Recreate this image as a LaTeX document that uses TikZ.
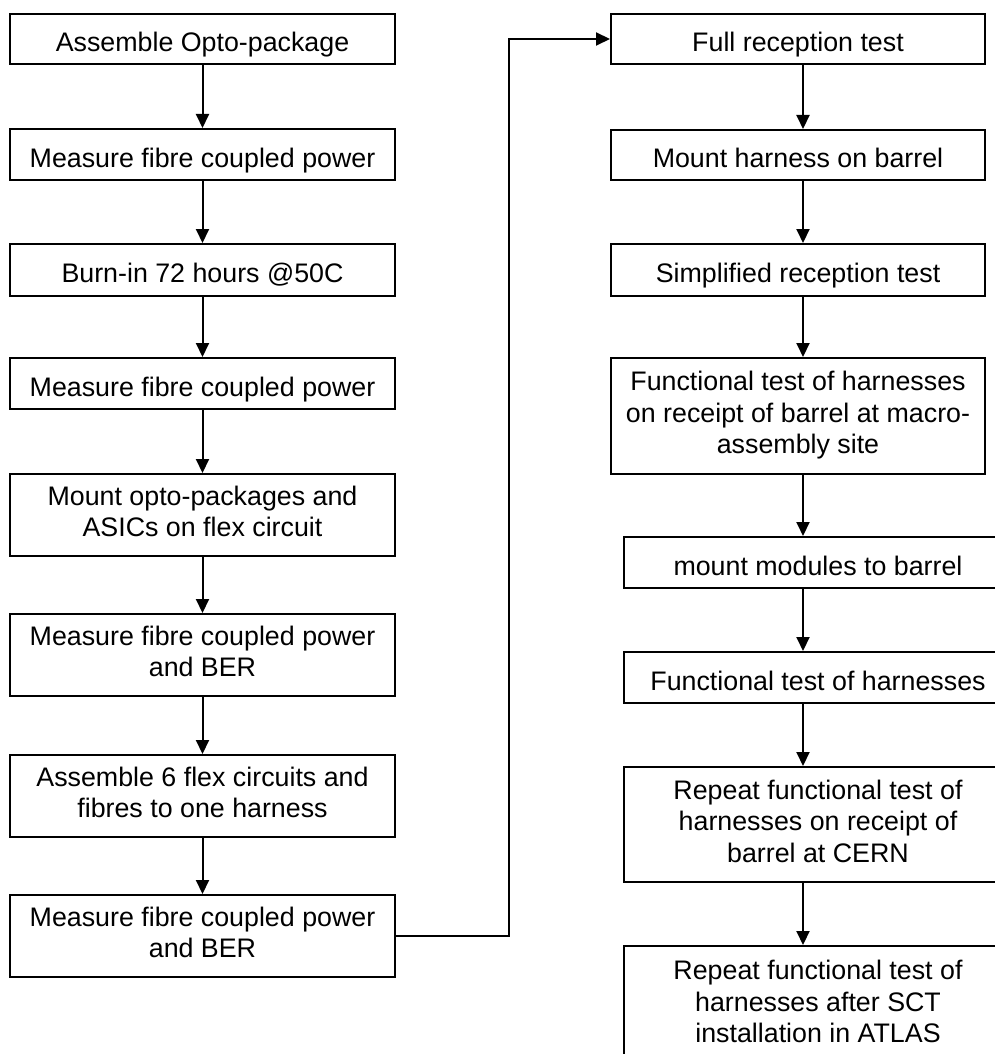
\documentclass[tikz,border=0pt]{standalone}
\usepackage{fontspec}
\setmainfont{Liberation Sans}
\usetikzlibrary{arrows.meta}
\newcommand\topstrut{\rule{0pt}{32pt}}
\newcommand\botstrut{\rule[-7pt]{0pt}{7pt}}
\begin{document}
\begin{tikzpicture}[x=1pt,y=-1pt,
  box/.style={draw=black, line width=2pt, rectangle, inner sep=0pt, align=center,
    font=\fontsize{26.8}{31.5}\selectfont,
    execute at begin node=\topstrut, execute at end node=\botstrut},
  lbox/.style={box, minimum width=385pt},
  rbox/.style={box, minimum width=374pt},
  wbox/.style={box, minimum width=388pt},
  arr/.style={line width=2pt, -{Triangle[length=14pt,width=13pt]}}]
\useasboundingbox (0,0) rectangle (995,1054);
\clip (0,0) rectangle (995,1054);
\fill[white] (0,0) rectangle (995,1054);
% left column
\node[lbox, minimum height=50pt] (L1) at (202.5,39) {Assemble Opto-package};
\node[lbox, minimum height=51pt] (L2) at (202.5,154.5) {Measure fibre coupled power};
\node[lbox, minimum height=52pt] (L3) at (202.5,270) {Burn-in 72 hours @50C};
\node[lbox, minimum height=51pt] (L4) at (202.5,383.5) {Measure fibre coupled power};
\node[lbox, minimum height=82pt] (L5) at (202.5,515) {Mount opto-packages and\\ASICs on flex circuit};
\node[lbox, minimum height=82pt] (L6) at (202.5,655) {Measure fibre coupled power\\and BER};
\node[lbox, minimum height=82pt] (L7) at (202.5,796) {Assemble 6 flex circuits and\\fibres to one harness};
\node[lbox, minimum height=82pt] (L8) at (202.5,936) {Measure fibre coupled power\\and BER};
% right column
\node[rbox, minimum height=50pt] (R1) at (798,39) {Full reception test};
\node[rbox, minimum height=50pt] (R2) at (798,155) {Mount harness on barrel};
\node[rbox, minimum height=52pt] (R3) at (798,270) {Simplified reception test};
\node[rbox, minimum height=116pt] (R4) at (798,416) {Functional test of harnesses\\on receipt of barrel at macro-\\assembly site};
\node[wbox, minimum height=51pt] (R5) at (818,562.5) {mount modules to barrel};
\node[wbox, minimum height=51pt] (R6) at (818,677.5) {Functional test of harnesses};
\node[wbox, minimum height=115pt] (R7) at (818,824.5) {Repeat functional test of\\harnesses on receipt of\\barrel at CERN};
\node[wbox, minimum height=118pt] (R8) at (818,1005) {Repeat functional test of\\harnesses after SCT\\installation in ATLAS};
% helper coordinates
\coordinate (rx) at (803,0);
\coordinate (vx) at (509,0);
% left arrows
\draw[arr] (L1) -- (L2);
\draw[arr] (L2) -- (L3);
\draw[arr] (L3) -- (L4);
\draw[arr] (L4) -- (L5);
\draw[arr] (L5) -- (L6);
\draw[arr] (L6) -- (L7);
\draw[arr] (L7) -- (L8);
% link between columns
\draw[arr] (L8.east) -- (L8.east -| vx) |- (R1.west);
% right arrows
\draw[arr] (R1.south -| rx) -- (R2.north -| rx);
\draw[arr] (R2.south -| rx) -- (R3.north -| rx);
\draw[arr] (R3.south -| rx) -- (R4.north -| rx);
\draw[arr] (R4.south -| rx) -- (R5.north -| rx);
\draw[arr] (R5.south -| rx) -- (R6.north -| rx);
\draw[arr] (R6.south -| rx) -- (R7.north -| rx);
\draw[arr] (R7.south -| rx) -- (R8.north -| rx);
\end{tikzpicture}
\end{document}
